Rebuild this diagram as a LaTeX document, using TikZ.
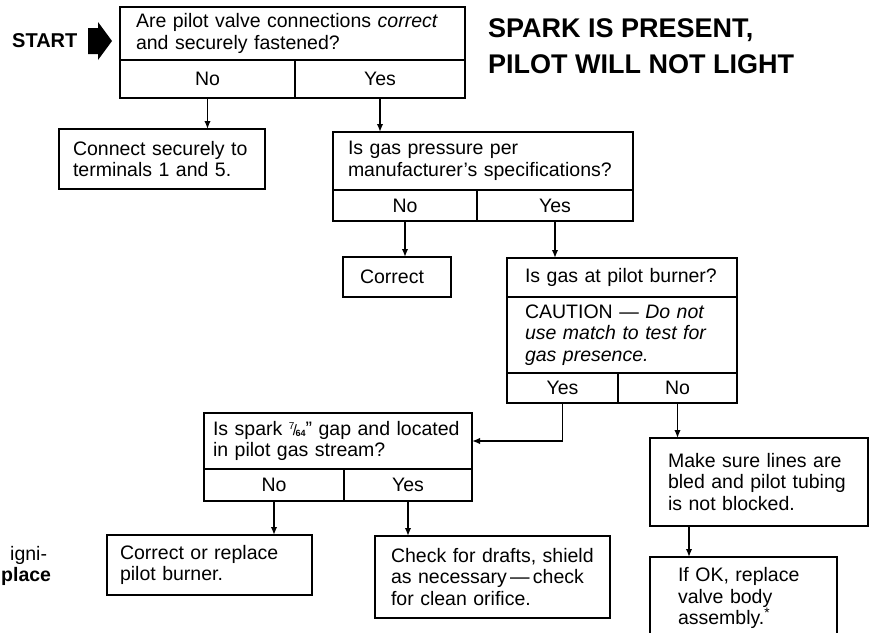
\documentclass[tikz,border=0pt]{standalone}
\usepackage{fontspec}
\setmainfont{Liberation Sans}
\usetikzlibrary{positioning, calc, arrows.meta}

\newcommand{\bodysize}{\fontsize{19.5}{21.5}\selectfont}
\newcommand{\sevensixtyfour}{\raisebox{0.6ex}{\fontsize{10}{10}\selectfont 7}\kern-1.5pt{\fontsize{15}{15}\selectfont/}\kern-1.5pt\raisebox{-0.15ex}{\fontsize{9}{9}\selectfont\bfseries 64}}

\begin{document}
\begin{tikzpicture}[
		% GLOBAL CFG
		x=1pt, y=-1pt,
		font=\bodysize,
		>={Latex[length=8pt,width=6.5pt]},
		% Styles
		qbox/.style={% For questions and actions
			rectangle,
			draw,
			line width=2.7pt,
			outer sep=0pt,
			anchor=north west,
			inner ysep=0pt,
			align=left,
		},
		ans/.style={% For the Yes / No cells
			rectangle,
			draw,
			line width=2.7pt,
			outer sep=0pt,
			anchor=north west,
			inner sep=0pt,
		},
		headline/.style={% Title at top right
			font=\fontsize{27}{36}\selectfont\bfseries,
			align=left,
			inner sep=0pt,
		},
		flow/.style={% Connectors
			->,
			line width=1.6pt,
		},
		]
		\useasboundingbox (0,0) rectangle (869,632);
		\clip (0,0) rectangle (869,632);

		% Start mark and title
		\node [anchor=base west, inner sep=0pt, font=\fontsize{20}{24}\selectfont\bfseries] (start) at (12,47) {START};
		\fill (88,28) -- (98,28) -- (98,22) -- (112,41) -- (98,60) -- (98,54) -- (88,54) -- cycle;
		\node [headline, anchor=base west] (title) at (488,73) {SPARK IS PRESENT,\\PILOT WILL NOT LIGHT};

		% Left over text of the next chart
		\node [anchor=base west, inner sep=0pt] (frag1) at (10,560) {igni-};
		\node [anchor=base west, inner sep=0pt, font=\bodysize\bfseries] (frag2) at (1,581) {place};

		% Questions named q# with cells q#no and q#yes
		\node [qbox, inner xsep=16, text width=313, minimum height=53] (q1) at (120,7)
			{Are pilot valve connections \textit{correct}\\and securely fastened?};
		\node [ans, minimum width=175, minimum height=38] (q1no) at (q1.south west) {No};
		\node [ans, minimum width=170, minimum height=38] (q1yes) at (q1no.north east) {Yes};

		\node [qbox, inner xsep=15, text width=270, minimum height=58] (q2) at (333,132)
			{Is gas pressure per\\manufacturer's specifications?};
		\node [ans, minimum width=144, minimum height=31] (q2no) at (q2.south west) {No};
		\node [ans, minimum width=156, minimum height=31] (q2yes) at (q2no.north east) {Yes};

		\node [qbox, inner xsep=18, text width=194, minimum height=39] (q3) at (507,258)
			{Is gas at pilot burner?};
		\node [qbox, inner xsep=18, text width=194, minimum height=76] (q3c) at (q3.south west)
			{CAUTION --- \textit{Do not}\\\textit{use match to test for}\\\textit{gas presence.}};
		\node [ans, minimum width=111, minimum height=30] (q3yes) at (q3c.south west) {Yes};
		\node [ans, minimum width=119, minimum height=30] (q3no) at (q3yes.north east) {No};

		\node [qbox, inner xsep=9, text width=250, minimum height=56] (q4) at (204,413)
			{Is spark \sevensixtyfour'' gap and located\\in pilot gas stream?};
		\node [ans, minimum width=140, minimum height=32] (q4no) at (q4.south west) {No};
		\node [ans, minimum width=128, minimum height=32] (q4yes) at (q4no.north east) {Yes};

		% Actions named a#
		\node [qbox, inner xsep=14, text width=178, minimum height=60] (a1) at (59,129)
			{Connect securely to\\terminals 1 and 5.};
		\node [qbox, inner xsep=17, text width=74, minimum height=40] (a2) at (343,257) {Correct};
		\node [qbox, inner xsep=13, text width=179, minimum height=60] (a3) at (107,535)
			{Correct or replace\\pilot burner.};
		\node [qbox, inner xsep=16, text width=203, minimum height=82] (a4) at (375,536)
			{Check for drafts, shield\\as necessary\,---\,check\\for clean orifice.};
		\node [qbox, inner xsep=18, text width=182, minimum height=88] (a5) at (650,438)
			{Make sure lines are\\bled and pilot tubing\\is not blocked.};
		\node [qbox, inner xsep=28, text width=131, minimum height=82] (a6) at (650,557)
			{If OK, replace\\valve body\\assembly.\textsuperscript{*}};

		% Connectors
		\draw [flow] (q1no.south) -- (q1no.south |- a1.north);
		\draw [flow] (q1yes.south) -- (q1yes.south |- q2.north);
		\draw [flow] (q2no.south) -- (q2no.south |- a2.north);
		\draw [flow] (q2yes.south) -- (q2yes.south |- q3.north);
		\draw [flow] (q3yes.south) |- (q4.east);
		\draw [flow] (q3no.south) -- (q3no.south |- a5.north);
		\draw [flow] (q4no.south) -- (q4no.south |- a3.north);
		\draw [flow] (q4yes.south) -- (q4yes.south |- a4.north);
		\coordinate (a5out) at ($(a5.south west)+(39,0)$);
		\draw [flow] (a5out) -- (a5out |- a6.north);

	\end{tikzpicture}
\end{document}
